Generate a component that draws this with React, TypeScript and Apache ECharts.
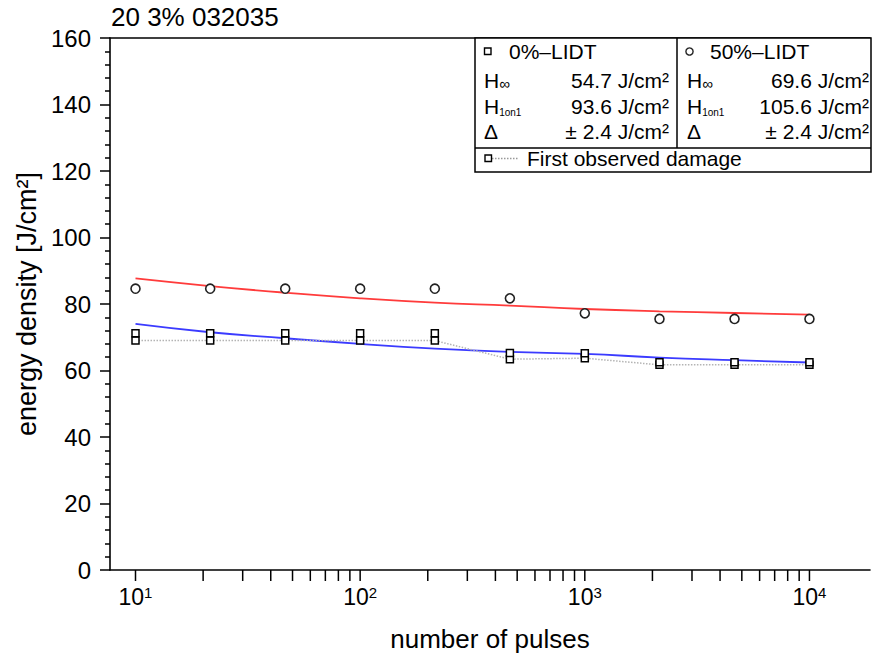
import React, { useEffect, useRef } from "react";
import * as echarts from "echarts";

// ---- data ----
const pulses = [10, 21.5, 46.4, 100, 215, 464, 1000, 2150, 4640, 10000];
const lidt50 = [84.6, 84.6, 84.6, 84.6, 84.6, 81.7, 77.2, 75.5, 75.5, 75.5];
const lidt0 = [71.2, 71.2, 71.2, 71.2, 71.2, 65.3, 65.2, 62.5, 62.5, 62.5];
const firstDamage = [69.0, 69.0, 69.0, 69.0, 69.0, 63.4, 63.7, 61.7, 61.7, 61.7];

const fitX = [10, 21.5, 46.4, 100, 215, 464, 1000, 2150, 4640, 10000];
const fit50 = [87.7, 85.4, 83.4, 81.7, 80.4, 79.5, 78.5, 77.8, 77.3, 76.8];
const fit0 = [74.0, 71.5, 69.7, 68.0, 66.6, 65.6, 65.0, 63.9, 63.1, 62.4];

const xTickValues = [
  10, 20, 30, 40, 50, 60, 70, 80, 90,
  100, 200, 300, 400, 500, 600, 700, 800, 900,
  1000, 2000, 3000, 4000, 5000, 6000, 7000, 8000, 9000,
  10000,
];

const titleText = "20 3% 032035";
const xName = "number of pulses";
const yName = "energy density [J/cm²]";

const legendRows0 = [
  { label: "H", sub: "∞", value: "54.7 J/cm²" },
  { label: "H", sub: "1on1", value: "93.6 J/cm²" },
  { label: "Δ", sub: "", value: "± 2.4 J/cm²" },
];
const legendRows50 = [
  { label: "H", sub: "∞", value: "69.6 J/cm²" },
  { label: "H", sub: "1on1", value: "105.6 J/cm²" },
  { label: "Δ", sub: "", value: "± 2.4 J/cm²" },
];

const FONT = "'Liberation Sans', Arial, Helvetica, sans-serif";

function zip(xs: number[], ys: number[]) {
  return xs.map((x, i) => [x, ys[i]]);
}

export default function App() {
  const ref = useRef<HTMLDivElement>(null);

  useEffect(() => {
    if (!ref.current) return;
    const chart = echarts.init(ref.current, null, { renderer: "svg" });

    const rowYs = [80, 106, 131];
    const legendTexts: any[] = [];
    const addRows = (rows: any[], xLabel: number, xValue: number) => {
      rows.forEach((r, i) => {
        const text = r.sub ? `{h|${r.label}}{s${r.sub === "∞" ? "i" : "o"}|${r.sub}}` : `{h|${r.label}}`;
        legendTexts.push({
          type: "text",
          x: xLabel,
          y: rowYs[i],
          style: {
            text,
            fill: "#000",
            verticalAlign: "middle",
            align: "left",
            fontFamily: FONT,
            fontSize: 21,
            rich: {
              h: { fontSize: 21, fontFamily: FONT, lineHeight: 22, fill: "#000" },
              si: { fontSize: 15, fontFamily: FONT, verticalAlign: "bottom", lineHeight: 8, fill: "#000" },
              so: { fontSize: 10, fontFamily: FONT, verticalAlign: "bottom", lineHeight: 7, fill: "#000" },
            },
          },
        });
        legendTexts.push({
          type: "text",
          x: xValue,
          y: rowYs[i],
          style: {
            text: r.value,
            fill: "#000",
            align: "right",
            verticalAlign: "middle",
            fontFamily: FONT,
            fontSize: 21,
          },
        });
      });
    };
    addRows(legendRows0, 484, 669);
    addRows(legendRows50, 687, 869);

    const option: any = {
      animation: false,
      backgroundColor: "#fff",
      title: {
        text: titleText,
        left: 111,
        top: 4,
        padding: 0,
        textStyle: { fontFamily: FONT, fontSize: 26, fontWeight: "normal", color: "#000" },
      },
      grid: { left: 110, top: 38, right: 2, bottom: 82, containLabel: false },
      xAxis: [
        {
          type: "log",
          logBase: 10,
          min: 7.7,
          max: 18600,
          name: xName,
          nameLocation: "middle",
          nameGap: 56,
          nameTextStyle: { fontFamily: FONT, fontSize: 26, color: "#000" },
          axisLine: { show: true, lineStyle: { color: "#000", width: 1.6 } },
          axisTick: { show: false },
          minorTick: { show: false },
          splitLine: { show: false },
          axisLabel: {
            margin: 15,
            showMinLabel: true,
            showMaxLabel: true,
            formatter: (v: number) => {
              const e = Math.log10(v);
              const r = Math.round(e);
              if (Math.abs(e - r) > 1e-6) return "";
              return `{b|10}{s|${r}}`;
            },
            rich: {
              b: { fontFamily: FONT, fontSize: 23, color: "#000", lineHeight: 24 },
              s: { fontFamily: FONT, fontSize: 15, color: "#000", verticalAlign: "top", lineHeight: 14 },
            },
          },
        },
        {
          type: "log",
          logBase: 10,
          min: 7.7,
          max: 18600,
          position: "top",
          axisLine: { show: true, lineStyle: { color: "#000", width: 1.6 } },
          axisTick: { show: false },
          axisLabel: { show: false },
          splitLine: { show: false },
        },
      ],
      yAxis: {
        type: "value",
        min: 0,
        max: 160,
        interval: 20,
        name: yName,
        nameLocation: "middle",
        nameRotate: 90,
        nameGap: 64,
        nameTextStyle: { fontFamily: FONT, fontSize: 27, color: "#000" },
        axisLine: { show: true, lineStyle: { color: "#000", width: 1.6 } },
        axisTick: { show: true, length: 10, lineStyle: { color: "#000", width: 1.5 } },
        minorTick: { show: true, splitNumber: 5, length: 5, lineStyle: { color: "#000", width: 1.5 } },
        splitLine: { show: false },
        axisLabel: { margin: 19, fontFamily: FONT, fontSize: 24, color: "#000" },
      },
      series: [
        {
          type: "line",
          name: "fit50",
          data: zip(fitX, fit50),
          smooth: true,
          showSymbol: false,
          lineStyle: { color: "#ff3b3b", width: 1.8 },
          z: 2,
        },
        {
          type: "line",
          name: "fit0",
          data: zip(fitX, fit0),
          smooth: true,
          showSymbol: false,
          lineStyle: { color: "#3b3bff", width: 1.8 },
          z: 2,
        },
        {
          type: "line",
          name: "First observed damage",
          data: zip(pulses, firstDamage),
          symbol: "rect",
          symbolSize: 7,
          showSymbol: true,
          lineStyle: { color: "#b4b4b4", width: 1.5, type: "dotted" },
          itemStyle: { color: "#fff", borderColor: "#000", borderWidth: 1.5 },
          z: 3,
        },
        {
          type: "scatter",
          name: "0%-LIDT",
          data: zip(pulses, lidt0),
          symbol: "rect",
          symbolSize: 7,
          itemStyle: { color: "#fff", borderColor: "#000", borderWidth: 1.5, opacity: 1 },
          z: 4,
        },
        {
          type: "scatter",
          name: "50%-LIDT",
          data: zip(pulses, lidt50),
          symbol: "circle",
          symbolSize: 9,
          itemStyle: { color: "#fff", borderColor: "#222", borderWidth: 1.6, opacity: 1 },
          z: 4,
        },
        {
          type: "custom",
          name: "xticks",
          silent: true,
          clip: false,
          data: xTickValues.map((v) => [v, 0]),
          renderItem: (_params: any, api: any) => {
            const p = api.coord([api.value(0), 0]);
            return {
              type: "line",
              shape: { x1: p[0], y1: p[1], x2: p[0], y2: p[1] + 11 },
              style: { stroke: "#000", lineWidth: 1.5 },
            };
          },
          z: 5,
        },
      ],
      graphic: [
        {
          type: "rect",
          shape: { x: 475, y: 38, width: 396, height: 134 },
          style: { fill: "#fff", stroke: "#000", lineWidth: 1.5 },
          z: 10,
        },
        {
          type: "line",
          shape: { x1: 677, y1: 38, x2: 677, y2: 148 },
          style: { stroke: "#000", lineWidth: 1.5 },
          z: 11,
        },
        {
          type: "line",
          shape: { x1: 475, y1: 148, x2: 871, y2: 148 },
          style: { stroke: "#000", lineWidth: 1.5 },
          z: 11,
        },
        {
          type: "rect",
          shape: { x: 484.5, y: 48, width: 6.5, height: 6.5 },
          style: { fill: "#fff", stroke: "#000", lineWidth: 1.4 },
          z: 12,
        },
        {
          type: "text",
          x: 509,
          y: 51.5,
          style: { text: "0%–LIDT", fill: "#000", fontFamily: FONT, fontSize: 21, verticalAlign: "middle" },
          z: 12,
        },
        {
          type: "circle",
          shape: { cx: 689.5, cy: 51.5, r: 3.6 },
          style: { fill: "#fff", stroke: "#222", lineWidth: 1.4 },
          z: 12,
        },
        {
          type: "text",
          x: 710,
          y: 51.5,
          style: { text: "50%–LIDT", fill: "#000", fontFamily: FONT, fontSize: 21, verticalAlign: "middle" },
          z: 12,
        },
        {
          type: "line",
          shape: { x1: 492, y1: 158.5, x2: 518, y2: 158.5 },
          style: { stroke: "#999", lineWidth: 1.3, lineDash: [1.5, 1.5] },
          z: 12,
        },
        {
          type: "rect",
          shape: { x: 485, y: 155, width: 6.5, height: 6.5 },
          style: { fill: "#fff", stroke: "#000", lineWidth: 1.4 },
          z: 12,
        },
        {
          type: "text",
          x: 527,
          y: 158.5,
          style: { text: "First observed damage", fill: "#000", fontFamily: FONT, fontSize: 21, verticalAlign: "middle" },
          z: 12,
        },
        ...legendTexts.map((t) => ({ ...t, z: 12 })),
      ],
    };

    chart.setOption(option);
    return () => {
      chart.dispose();
    };
  }, []);

  return (
    <div
      ref={ref}
      style={{ position: "fixed", left: 0, top: 0, width: 873, height: 657, background: "#fff" }}
    />
  );
}
